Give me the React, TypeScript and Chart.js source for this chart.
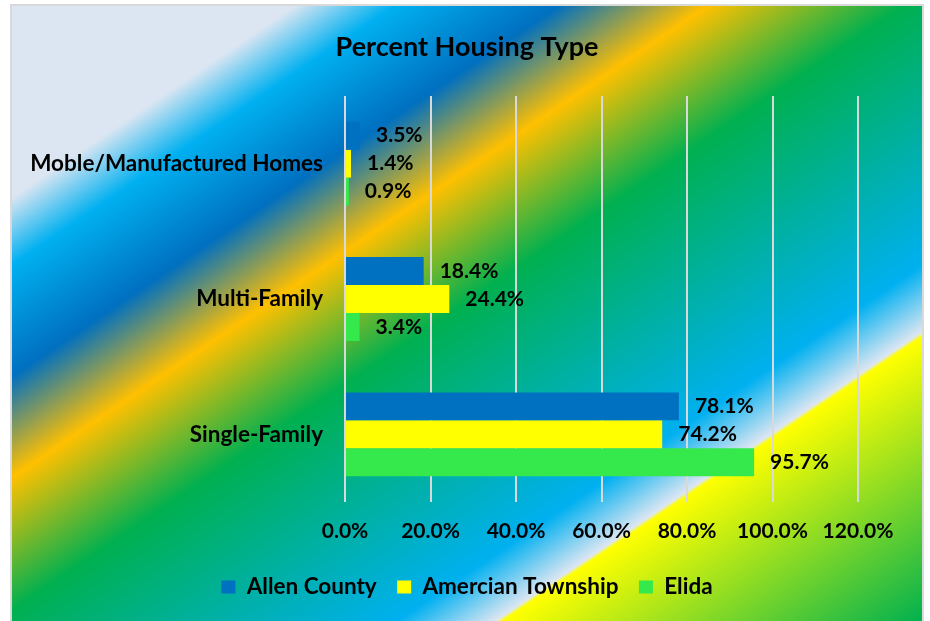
import React, { useEffect, useRef } from "react";
import { Chart, registerables } from "chart.js";

Chart.register(...registerables);

const categories = ["Moble/Manufactured Homes", "Multi-Family", "Single-Family"];
const seriesNames = ["Allen County", "Amercian Township", "Elida"];
const allenCounty = [3.5, 18.4, 78.1];
const amercianTownship = [1.4, 24.4, 74.2];
const elida = [0.9, 3.4, 95.7];
const seriesColors = ["#0070C0", "#FFFF00", "#35E84C"];
const xMin = 0;
const xMax = 120;
const xStep = 20;
const chartTitle = "Percent Housing Type";

const FONT = "Lato, 'Open Sans', sans-serif";

const backgroundPlugin = {
  id: "bgGradient",
  beforeDraw(chart: any) {
    const ctx = chart.ctx as CanvasRenderingContext2D;
    const w = chart.width;
    const h = chart.height;
    ctx.save();
    ctx.fillStyle = "#FFFFFF";
    ctx.fillRect(0, 0, w, h);
    const x0 = 12, y0 = 6, bw = 910, bh = 617;
    ctx.save();
    ctx.translate(x0, y0);
    ctx.scale(bw, bh);
    const g = ctx.createLinearGradient(0, 0, 1, 1);
    g.addColorStop(0, "#DCE6F2");
    g.addColorStop(0.155, "#DCE6F2");
    g.addColorStop(0.21, "#00B0F0");
    g.addColorStop(0.3, "#0070C0");
    g.addColorStop(0.382, "#FFC000");
    g.addColorStop(0.49, "#00B050");
    g.addColorStop(0.71, "#00B0F0");
    g.addColorStop(0.764, "#DCE6F2");
    g.addColorStop(0.768, "#FFFF00");
    g.addColorStop(1, "#00B050");
    ctx.fillStyle = g;
    ctx.fillRect(0, 0, 1, 1);
    ctx.restore();
    ctx.strokeStyle = "#D9D9D9";
    ctx.lineWidth = 2;
    ctx.strokeRect(x0 - 1, y0 - 1, bw + 2, bh + 4);
    ctx.restore();
  },
};

const dataLabelPlugin = {
  id: "barValueLabels",
  afterDatasetsDraw(chart: any) {
    const ctx = chart.ctx as CanvasRenderingContext2D;
    ctx.save();
    ctx.font = `bold 21px ${FONT}`;
    ctx.fillStyle = "#000000";
    ctx.textAlign = "left";
    ctx.textBaseline = "middle";
    chart.data.datasets.forEach((ds: any, i: number) => {
      const meta = chart.getDatasetMeta(i);
      meta.data.forEach((bar: any, j: number) => {
        const v = ds.data[j] as number;
        ctx.fillText(v.toFixed(1) + "%", bar.x + 16, bar.y);
      });
    });
    ctx.restore();
  },
};

export default function App() {
  const canvasRef = useRef<HTMLCanvasElement | null>(null);

  useEffect(() => {
    const canvas = canvasRef.current;
    if (!canvas) return;
    const seriesData = [allenCounty, amercianTownship, elida];
    const chart = new Chart(canvas, {
      type: "bar",
      data: {
        labels: categories,
        datasets: seriesNames.map((name, i) => ({
          label: name,
          data: seriesData[i],
          backgroundColor: seriesColors[i],
          borderWidth: 0,
          categoryPercentage: 0.62,
          barPercentage: 1.0,
        })),
      },
      options: {
        indexAxis: "y",
        responsive: false,
        animation: false,
        devicePixelRatio: 1,
        layout: { padding: { left: 12, right: 8, top: 0, bottom: 12.75 } },
        plugins: {
          title: {
            display: true,
            text: chartTitle,
            color: "#000000",
            font: { family: FONT, size: 27, weight: "bold" },
            padding: { top: 31, bottom: 32.6 },
          },
          legend: {
            display: true,
            position: "bottom",
            labels: {
              color: "#000000",
              font: { family: FONT, size: 22.5, weight: "bold" },
              boxWidth: 14,
              boxHeight: 13,
              padding: 20.5,
            },
          },
          tooltip: { enabled: false },
        },
        scales: {
          x: {
            type: "linear",
            position: "bottom",
            min: xMin,
            max: xMax,
            ticks: {
              stepSize: xStep,
              color: "#000000",
              font: { family: FONT, size: 21, weight: "bold" },
              padding: 17,
              callback: (v: any) => Number(v).toFixed(1) + "%",
            },
            grid: { color: "#D9D9D9", lineWidth: 2, drawTicks: false },
            border: { display: false },
            afterFit: (s: any) => {
              s.height = 53.25;
            },
          },
          y: {
            type: "category",
            position: "left",
            ticks: {
              color: "#000000",
              font: { family: FONT, size: 22.5, weight: "bold" },
              padding: 22,
            },
            grid: { display: false, drawTicks: false },
            border: { display: false },
            afterFit: (s: any) => {
              s.width = 333;
            },
          },
          yRight: {
            type: "linear",
            position: "right",
            display: true,
            ticks: { display: false },
            grid: { display: false, drawTicks: false },
            border: { display: false },
            afterFit: (s: any) => {
              s.width = 64;
            },
          },
        },
      } as any,
      plugins: [backgroundPlugin, dataLabelPlugin],
    });
    return () => {
      chart.destroy();
    };
  }, []);

  return (
    <div style={{ position: "absolute", left: 0, top: 0, width: 930, height: 621 }}>
      <canvas ref={canvasRef} width={930} height={621} style={{ display: "block", width: 930, height: 621 }} />
    </div>
  );
}
